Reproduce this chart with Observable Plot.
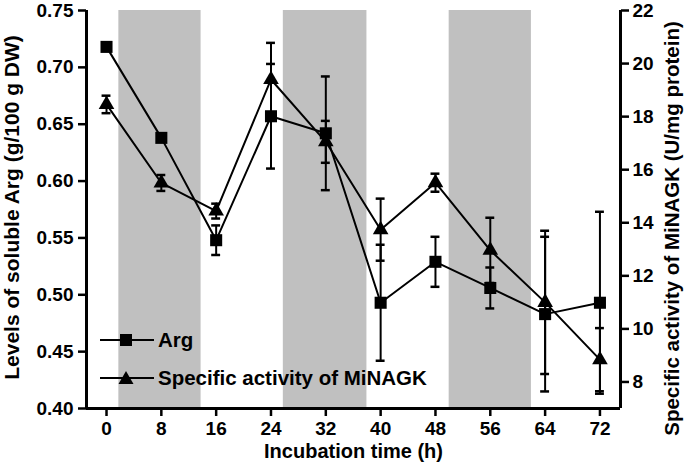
<!DOCTYPE html>
<html><head><meta charset="utf-8">
<script src="https://cdn.jsdelivr.net/npm/d3@7"></script>
<script src="https://cdn.jsdelivr.net/npm/@observablehq/plot@0.6"></script>
<style>
body{margin:0;background:#fff;}
#wrap{position:relative;width:685px;height:474px;font-family:Arial,"Liberation Sans",sans-serif;font-weight:bold;color:#000;}
.lg{position:absolute;height:24px;line-height:24px;font-size:20.5px;white-space:nowrap;}
.lg svg{position:absolute;left:0;top:2px;}
</style></head><body><div id="wrap"></div>
<script>
// Data
const hours = [0, 8, 16, 24, 32, 40, 48, 56, 64, 72];
const argLevel = [0.718, 0.638, 0.548, 0.657, 0.642, 0.493, 0.529, 0.506, 0.483, 0.493];
const argErr = [0.002, 0.003, 0.013, 0.046, 0.050, 0.051, 0.022, 0.018, 0.068, 0.080];
const nagkActivity = [18.46, 15.5, 14.44, 19.4, 17.05, 13.74, 15.51, 12.96, 11.0, 8.84];
const nagkErr = [0.33, 0.3, 0.28, 1.38, 0.79, 1.17, 0.34, 1.23, 2.7, 1.19];
const darkStart = [1.8, 25.8, 50];
const darkEnd = [13.8, 38, 62];
const leftTicks = [0.40, 0.45, 0.50, 0.55, 0.60, 0.65, 0.70, 0.75];
const rightTicks = [8, 10, 12, 14, 16, 18, 20, 22];
const seriesNames = ["Arg", "Specific activity of MiNAGK"];
const xLabel = "Incubation time (h)";
const yLabelLeft = "Levels of soluble Arg (g/100 g DW)";
const yLabelRight = "Specific activity of MiNAGK (U/mg protein)";

const leftDomain = [0.40, 0.75];
const rightDomain = [7, 22];
const xDomain = [-2.92, 75];
const toLeft = v => leftDomain[0] + (v - rightDomain[0]) * (leftDomain[1] - leftDomain[0]) / (rightDomain[1] - rightDomain[0]);
const fromLeft = v => rightDomain[0] + (v - leftDomain[0]) * (rightDomain[1] - rightDomain[0]) / (leftDomain[1] - leftDomain[0]);

const arg = hours.map((h, i) => ({h, y: argLevel[i], lo: argLevel[i] - argErr[i], hi: argLevel[i] + argErr[i]}));
const nagk = hours.map((h, i) => ({h, y: toLeft(nagkActivity[i]), lo: toLeft(nagkActivity[i] - nagkErr[i]), hi: toLeft(nagkActivity[i] + nagkErr[i])}));
const bands = darkStart.map((s, i) => ({x1: s, x2: darkEnd[i]}));
const cap = 0.65;
const caps = d => [...d.map(e => ({h: e.h, y: e.lo})), ...d.map(e => ({h: e.h, y: e.hi}))];

const chart = Plot.plot({
  width: 685, height: 474,
  marginLeft: 86, marginRight: 65, marginTop: 10, marginBottom: 66,
  style: {fontFamily: 'Arial, "Liberation Sans", sans-serif', fontSize: "19px", fontWeight: "bold", color: "#000", background: "#fff", overflow: "visible"},
  x: {domain: xDomain},
  y: {domain: leftDomain},
  marks: [
    Plot.rect(bands, {x1: "x1", x2: "x2", y1: leftDomain[0], y2: leftDomain[1], fill: "#c0c0c0"}),
    // error bars
    Plot.ruleX(arg, {x: "h", y1: "lo", y2: "hi", stroke: "#000", strokeWidth: 2}),
    Plot.ruleX(nagk, {x: "h", y1: "lo", y2: "hi", stroke: "#000", strokeWidth: 2}),
    Plot.ruleY(caps(arg), {y: "y", x1: d => d.h - cap, x2: d => d.h + cap, stroke: "#000", strokeWidth: 2.5}),
    Plot.ruleY(caps(nagk), {y: "y", x1: d => d.h - cap, x2: d => d.h + cap, stroke: "#000", strokeWidth: 2.5}),
    // lines
    Plot.line(arg, {x: "h", y: "y", stroke: "#000", strokeWidth: 2}),
    Plot.line(nagk, {x: "h", y: "y", stroke: "#000", strokeWidth: 2}),
    Plot.dot(arg, {x: "h", y: "y", symbol: "square", r: 6.8, fill: "#000", stroke: "none"}),
    Plot.dot(nagk, {x: "h", y: "y", symbol: "triangle", r: 5.8, fill: "#000", stroke: "none"}),
    // axis lines
    Plot.ruleX([xDomain[0]], {stroke: "#000", strokeWidth: 3}),
    Plot.ruleX([xDomain[1]], {stroke: "#000", strokeWidth: 3}),
    Plot.ruleY([leftDomain[0]], {stroke: "#000", strokeWidth: 3}),
    // axes
    Plot.axisX({ticks: hours, tickSize: 8, tickPadding: 5, strokeWidth: 2.5, label: null, tickFormat: d => d}),
    Plot.axisY({ticks: leftTicks, tickSize: 8, tickPadding: 5, strokeWidth: 2.5, label: null, tickFormat: d => d.toFixed(2)}),
    Plot.axisY({ticks: rightTicks.map(toLeft), anchor: "right", tickSize: 8, tickPadding: 4, strokeWidth: 2.5, label: null, tickFormat: d => Math.round(fromLeft(d))}),
    // axis titles
    Plot.text([xLabel], {frameAnchor: "bottom", dy: 49, text: d => d, fontSize: 20, fontWeight: "bold", fill: "#000"}),
    Plot.text([yLabelLeft], {frameAnchor: "left", textAnchor: "middle", dx: -74, dy: -2, rotate: -90, text: d => d, fontSize: 21, fontWeight: "bold", fill: "#000"}),
    Plot.text([yLabelRight], {frameAnchor: "right", textAnchor: "middle", dx: 52, dy: 19, rotate: -90, text: d => d, fontSize: 20.5, fontWeight: "bold", fill: "#000"})
  ]
});
const wrap = document.getElementById("wrap");
wrap.appendChild(chart);

// legend
const legendRows = [{name: seriesNames[0], top: 328, sym: "square"}, {name: seriesNames[1], top: 366, sym: "triangle"}];
legendRows.forEach(r => {
  const div = document.createElement("div");
  div.className = "lg";
  div.style.left = "99px";
  div.style.top = r.top + "px";
  const symbol = r.sym === "square"
    ? '<rect x="21" y="4" width="12" height="12" fill="#000"/>'
    : '<path d="M27,3 L34.5,16 L19.5,16 Z" fill="#000"/>';
  div.innerHTML = '<svg width="56" height="20"><line x1="1" y1="10" x2="55" y2="10" stroke="#000" stroke-width="2"/>' + symbol + '</svg><span style="position:absolute;left:59px;top:0;">' + r.name + '</span>';
  wrap.appendChild(div);
});
</script>
</body></html>
